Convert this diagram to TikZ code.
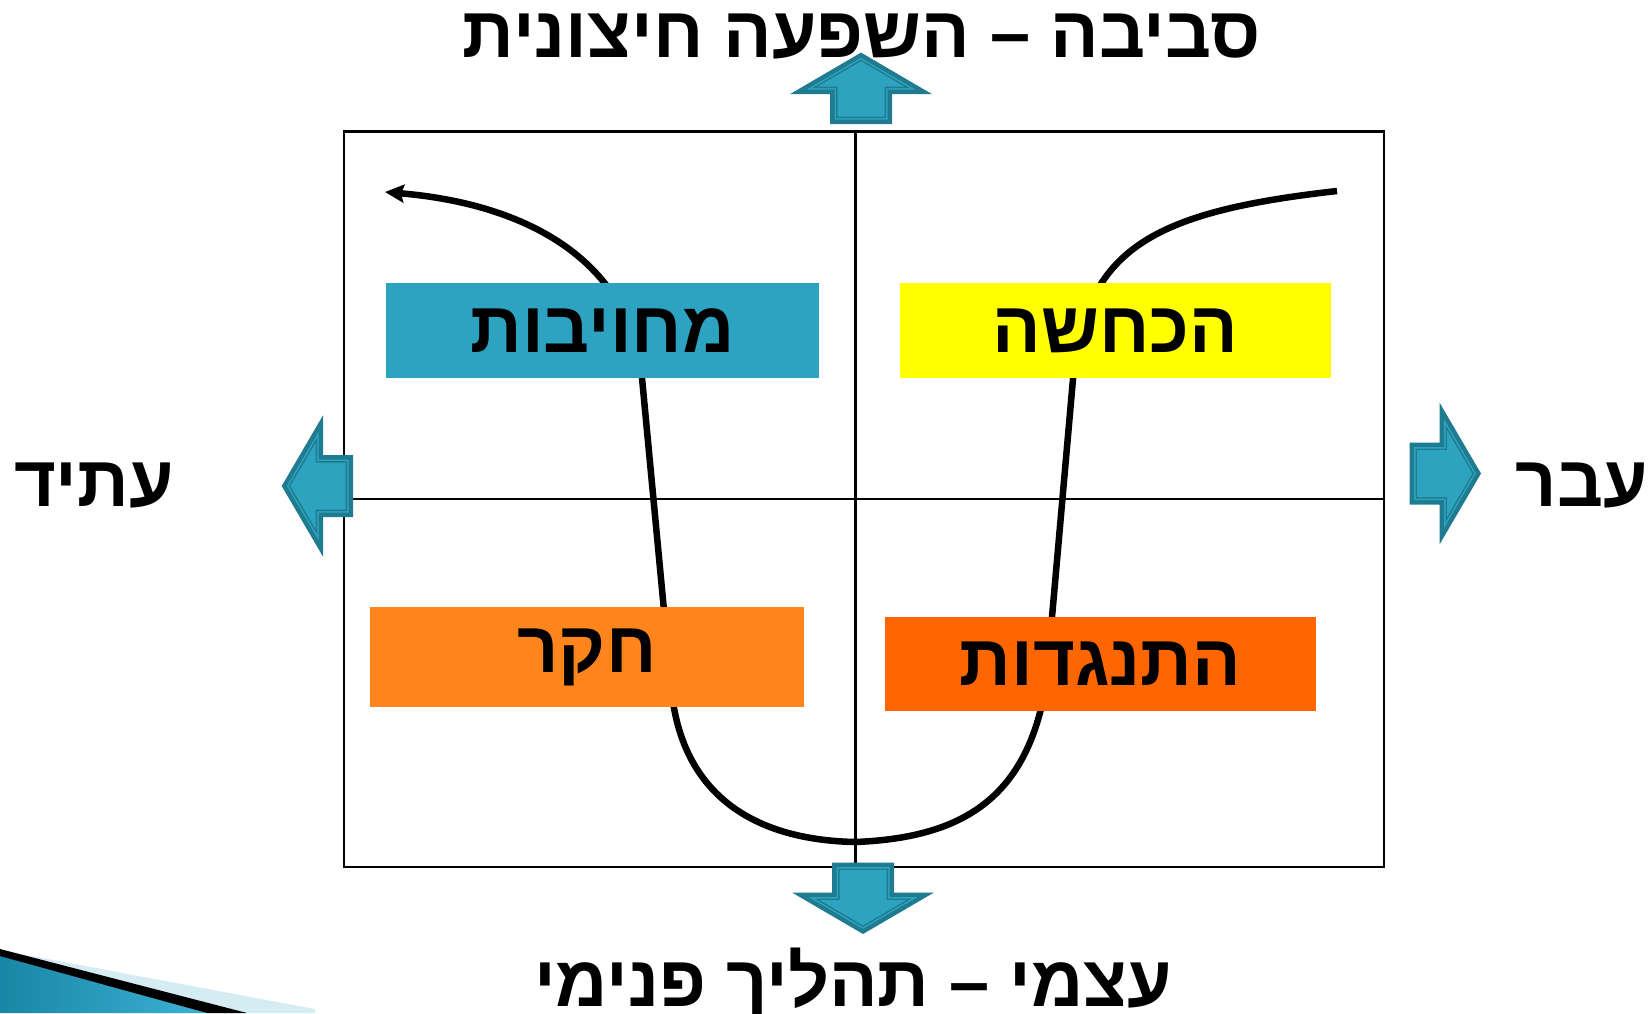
\documentclass[tikz,border=0pt]{standalone}
\usepackage{fontspec}
\newfontfamily\hebfont[Script=Hebrew]{Liberation Sans}
\TeXXeTstate=1
\usetikzlibrary{arrows.meta}
\definecolor{boxblue}{HTML}{2CA3C1}
\definecolor{boxyellow}{HTML}{FFFF00}
\definecolor{boxorange}{HTML}{FF851C}
\definecolor{boxred}{HTML}{FF6600}
\definecolor{arrdark}{HTML}{1F7B8F}
\definecolor{arrlight}{HTML}{2EA3C0}
\definecolor{decolight}{HTML}{D6ECF3}
\definecolor{decodark}{HTML}{1A86A6}
\definecolor{decomid}{HTML}{3CB2D4}
\newcommand\arrowpath[1]{(0,{1.157*#1}) -- ({(41.5-2.157*#1)/0.5845},{41.5-#1}) -- ({31-#1},{41.5-#1}) -- ({31-#1},{71.5-#1}) -- ({-(31-#1)},{71.5-#1}) -- ({-(31-#1)},{41.5-#1}) -- ({-(41.5-2.157*#1)/0.5845},{41.5-#1}) -- cycle}
\newcommand\blockarrow[2]{%
  \begin{scope}[shift={#1},rotate=#2]
    \fill[arrdark] \arrowpath{0};
    \fill[arrlight] \arrowpath{4.5};
    \fill[arrdark] \arrowpath{6};
    \fill[arrlight] \arrowpath{7.5};
  \end{scope}}
\tikzset{
  labelbox/.style={inner sep=0pt, anchor=center, font=\hebfont\bfseries\fontsize{72}{80}\selectfont},
  headtext/.style={inner sep=0pt, anchor=center, font=\hebfont\bfseries\fontsize{72}{80}\selectfont},
  gridline/.style={line width=2.5pt, black},
  flow/.style={line width=6.5pt, black, -{Stealth[length=19pt,width=18pt,inset=3pt]}}
}
\begin{document}
\begin{tikzpicture}[x=1pt,y=-1pt]
\useasboundingbox (0,0) rectangle (1650,1013);
% grid
\draw[gridline] (344,131.5) rectangle (1384,867);
\draw[gridline] (855.5,131.5) -- (855.5,867);
\draw[gridline] (344,499) -- (1384,499);
% flow curve
\coordinate (cs) at (1337,191);
\coordinate (ce) at (385,192);
\draw[flow] (cs) .. controls (1150,212) and (1085,250) .. (1073,379)
  -- (1052,617) -- (1045,690)
  .. controls (1025,800) and (960,838) .. (855,842)
  .. controls (760,840) and (685,800) .. (672,695)
  -- (642,378)
  .. controls (632,270) and (540,205) .. (ce);
% boxes
\node[labelbox, fill=boxblue, minimum width=433pt, minimum height=95pt] (commit) at (602.5,330.5) {\beginR מחויבות\endR};
\node[labelbox, fill=boxyellow, minimum width=431pt, minimum height=95pt] (deny) at (1115.5,330.5) {\beginR הכחשה\endR};
\node[labelbox, fill=boxorange, minimum width=434pt, minimum height=100pt] (explore) at (587,657) {\beginR חקר\endR};
\node[labelbox, fill=boxred, minimum width=431pt, minimum height=94pt] (resist) at (1100.5,664) {\beginR התנגדות\endR};
% block arrows
\blockarrow{(861,52.6)}{0}
\blockarrow{(863,934)}{180}
\blockarrow{(281.7,486)}{90}
\blockarrow{(1481,473.5)}{-90}
% texts
\node[headtext] (top) at (862,37) {\beginR סביבה – השפעה חיצונית\endR};
\node[headtext] (bottom) at (853,984) {\beginR עצמי – תהליך פנימי\endR};
\node[headtext] (future) at (94,486) {\beginR עתיד\endR};
\node[headtext] (past) at (1582,486) {\beginR עבר\endR};
% decoration
\fill[decolight] (0,950) -- (315,1009) -- (315,1013) -- (0,1013) -- cycle;
\shade[left color=decodark, right color=decomid] (0,955) -- (207,1013) -- (0,1013) -- cycle;
\fill[black] (0,949) -- (247,1013) -- (207,1013) -- (0,956) -- cycle;
\end{tikzpicture}
\end{document}
